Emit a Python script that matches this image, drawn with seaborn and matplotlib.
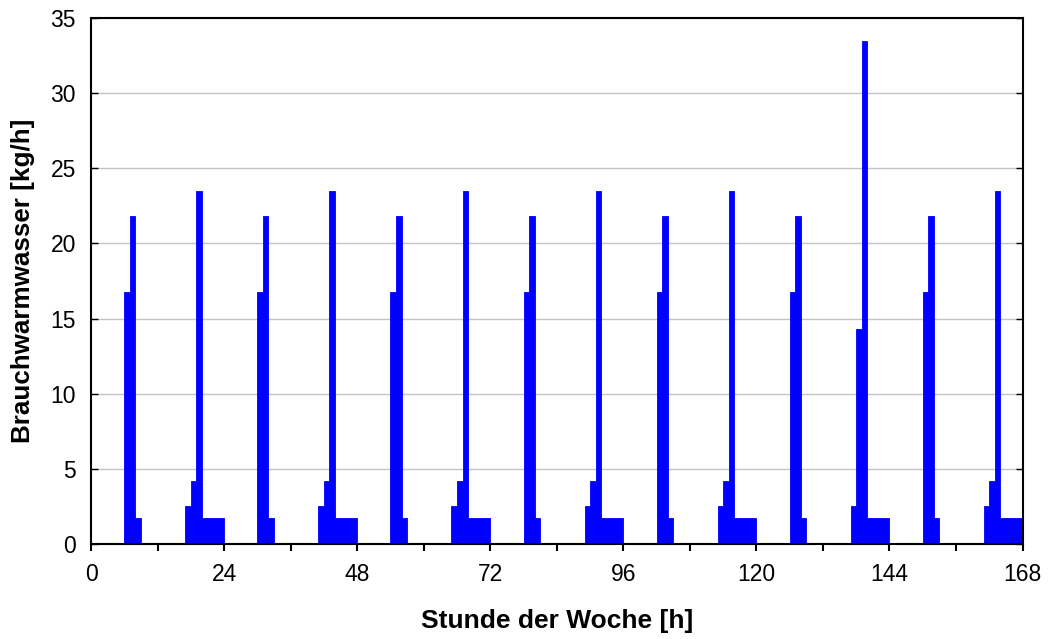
import numpy as np
import pandas as pd
import matplotlib
matplotlib.use("Agg")
import matplotlib.pyplot as plt
import seaborn as sns

# Hourly domestic hot water draw-off [kg/h], one list per day type (hour 0..23)
weekday_profile = [0, 0, 0, 0, 0, 0, 16.8, 21.8, 1.7, 0, 0, 0,
                   0, 0, 0, 0, 0, 2.5, 4.2, 23.5, 1.7, 1.7, 1.7, 1.7]
saturday_profile = [0, 0, 0, 0, 0, 0, 16.8, 21.8, 1.7, 0, 0, 0,
                    0, 0, 0, 0, 0, 2.5, 14.3, 33.5, 1.7, 1.7, 1.7, 1.7]
week_days = ["Mo", "Di", "Mi", "Do", "Fr", "Sa", "So"]
day_type = ["weekday", "weekday", "weekday", "weekday", "weekday", "saturday", "weekday"]

x_ticks = [0, 24, 48, 72, 96, 120, 144, 168]
y_ticks = [0, 5, 10, 15, 20, 25, 30, 35]

profiles = {"weekday": weekday_profile, "saturday": saturday_profile}
values = []
for kind in day_type:
    values.extend(profiles[kind])
df = pd.DataFrame({"hour": np.arange(len(values)) + 0.5, "flow": values})

sns.set_theme(style="white")
plt.rcParams["font.family"] = ["Liberation Sans", "DejaVu Sans"]

fig = plt.figure(figsize=(10.49, 6.39), dpi=100)
ax = fig.add_axes([0.0868, 0.1487, 0.888, 0.8231])

sns.histplot(data=df, x="hour", weights="flow", binwidth=1, binrange=(0, 168),
             element="step", fill=True,
             color="#0000ff", alpha=1.0, edgecolor="#0000ff", linewidth=0.6,
             ax=ax, zorder=2)

ax.set_xlim(0, 168)
ax.set_ylim(0, 35)
ax.set_xticks(x_ticks)
ax.set_xticks(np.arange(0, 169, 12), minor=True)
ax.set_yticks(y_ticks)
ax.yaxis.grid(True, color="#c4c4c4", linewidth=1.0, zorder=0)
ax.xaxis.grid(False)
ax.set_axisbelow(True)

for s in ax.spines.values():
    s.set_visible(True)
    s.set_color("black")
    s.set_linewidth(1.5)
    s.set_zorder(5)

ax.tick_params(axis="x", which="both", direction="out", length=5, width=1.5,
               bottom=True, top=False, labelsize=16.5, colors="black", pad=9)
ax.tick_params(axis="y", which="major", direction="in", length=5, width=1.0,
               left=True, right=True, labelsize=16.5, colors="black", pad=11)

ax.set_xlabel("Stunde der Woche [h]", fontsize=19, fontweight="bold",
              color="black", labelpad=16)
ax.set_ylabel("Brauchwarmwasser [kg/h]", fontsize=18.7, fontweight="bold",
              color="black", labelpad=11)

fig.savefig("out.png", dpi=100)
